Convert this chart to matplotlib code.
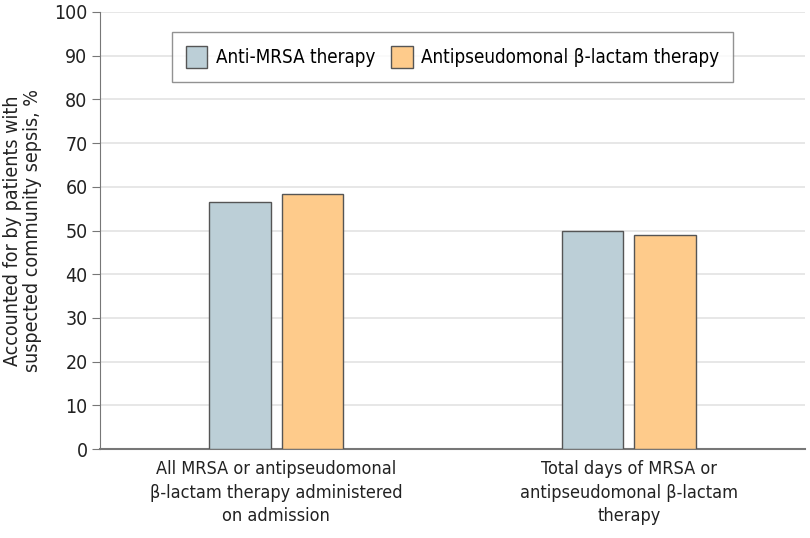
import matplotlib
matplotlib.use("Agg")
import matplotlib.pyplot as plt
import numpy as np

plt.rcParams['font.family'] = ['DejaVu Sans']
plt.rcParams['font.stretch'] = 'condensed'

categories = ["All MRSA or antipseudomonal\nβ-lactam therapy administered\non admission",
              "Total days of MRSA or\nantipseudomonal β-lactam\ntherapy"]
series_names = ["Anti-MRSA therapy", "Antipseudomonal β-lactam therapy"]
anti_mrsa = [56.6, 49.9]
antipseudomonal = [58.3, 49.0]

colors = ["#bccfd7", "#fecb8b"]

fig = plt.figure(figsize=(8.1, 5.38), dpi=100)
ax = fig.add_axes([0.1235, 0.1654, 0.8703, 0.8123])

x = np.arange(len(categories))
w = 0.174
off = 0.1026
ax.bar(x - off, anti_mrsa, w, color=colors[0], edgecolor="#555555", linewidth=1, label=series_names[0], zorder=3)
ax.bar(x + off, antipseudomonal, w, color=colors[1], edgecolor="#555555", linewidth=1, label=series_names[1], zorder=3)

ax.set_xlim(-0.5, 1.5)
ax.set_ylim(0, 100)
ax.set_yticks(np.arange(0, 101, 10))
ax.yaxis.grid(True, color="#e3e3e3", linewidth=1.2, zorder=0)
ax.set_axisbelow(True)
ax.set_xticks(x)
ax.set_xticklabels(categories, fontsize=13, color="#222222", linespacing=1.4)
ax.tick_params(axis="x", length=0, pad=8)
ax.tick_params(axis="y", length=6, color="#777777", labelsize=14, labelcolor="#222222", pad=3)
for s in ["top", "right"]:
    ax.spines[s].set_visible(False)
ax.spines["left"].set_color("#777777")
ax.spines["bottom"].set_color("#777777")
ax.spines["bottom"].set_linewidth(1.5)
ax.set_ylabel("Accounted for by patients with\nsuspected community sepsis, %", fontsize=14, color="#222222",
              labelpad=9, linespacing=1.05)

leg = ax.legend(loc="upper center", bbox_to_anchor=(0.5, 0.954), ncol=2, fontsize=13.5,
                frameon=True, fancybox=False, edgecolor="#777777", handlelength=1.15, handleheight=1.4,
                columnspacing=0.85, handletextpad=0.45, borderpad=0.75, borderaxespad=0)
leg.get_frame().set_linewidth(1)

fig.savefig("out.png", dpi=100)
